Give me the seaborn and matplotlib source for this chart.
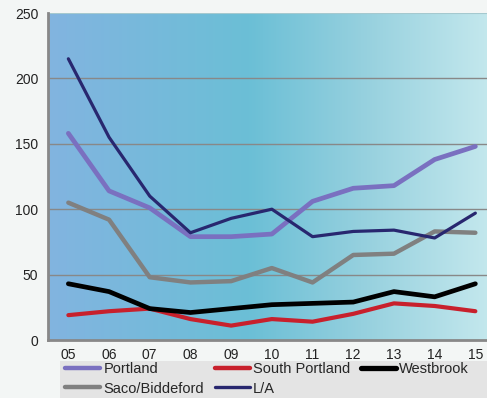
import numpy as np
import pandas as pd
import matplotlib
matplotlib.use("Agg")
import matplotlib.pyplot as plt
import seaborn as sns
from matplotlib.colors import LinearSegmentedColormap
from matplotlib.lines import Line2D
from matplotlib.patches import Rectangle

years = ["05", "06", "07", "08", "09", "10", "11", "12", "13", "14", "15"]
portland = [158, 114, 101, 79, 79, 81, 106, 116, 118, 138, 148]
south_portland = [19, 22, 24, 16, 11, 16, 14, 20, 28, 26, 22]
westbrook = [43, 37, 24, 21, 24, 27, 28, 29, 37, 33, 43]
saco_biddeford = [105, 92, 48, 44, 45, 55, 44, 65, 66, 83, 82]
la = [215, 155, 110, 82, 93, 100, 79, 83, 84, 78, 97]

series_names = ["Portland", "South Portland", "Westbrook", "Saco/Biddeford", "L/A"]
series_values = [portland, south_portland, westbrook, saco_biddeford, la]
colors = {"Portland": "#7a70c0", "South Portland": "#c8202c", "Westbrook": "#000000",
          "Saco/Biddeford": "#808080", "L/A": "#28276f"}
widths = {"Portland": 3.4, "South Portland": 3.0, "Westbrook": 3.4,
          "Saco/Biddeford": 3.2, "L/A": 2.3}

rows = []
for name, vals in zip(series_names, series_values):
    for i, (yr, v) in enumerate(zip(years, vals)):
        rows.append({"x": i, "year": yr, "value": v, "series": name})
df = pd.DataFrame(rows)

sns.set_style("white")
plt.rcParams["font.family"] = ["Liberation Sans", "DejaVu Sans"]

W, H = 487, 398
fig = plt.figure(figsize=(W / 100, H / 100), dpi=100, facecolor="#f3f6f5")
left, right, top, bottom = 48, 495.7, 13, 340
ax = fig.add_axes([left / W, 1 - bottom / H, (right - left) / W, (bottom - top) / H])

# gradient background
cmap = LinearSegmentedColormap.from_list(
    "bg", [(0.0, "#82b4e0"), (0.45, "#6bbfd6"), (0.7, "#95d0de"), (1.0, "#c6e9ee")])
grad = np.linspace(0, 1, 256).reshape(1, -1)
ax.imshow(grad, cmap=cmap, aspect="auto", extent=[0, 1, 0, 1],
          transform=ax.transAxes, zorder=0)

for name in series_names:
    sub = df[df["series"] == name]
    sns.lineplot(data=sub, x="x", y="value", ax=ax, color=colors[name],
                 linewidth=widths[name], label=name, zorder=3,
                 solid_capstyle="round", solid_joinstyle="round", legend=False)

ax.set_xlim(-0.5, 10.5)
ax.set_ylim(0, 250)
ax.set_yticks([0, 50, 100, 150, 200, 250])
ax.set_xticks(range(len(years)))
ax.set_xticklabels(years)
ax.set_xticks(np.arange(-0.5, 11, 1), minor=True)
ax.tick_params(axis="x", which="major", length=0, labelsize=10, pad=6, colors="#222222")
ax.tick_params(axis="x", which="minor", length=4, width=1, color="#888888", direction="out")
ax.tick_params(axis="y", length=4, width=1, color="#888888", labelsize=10, colors="#222222", pad=3)
ax.set_xlabel("")
ax.set_ylabel("")
for y in [50, 100, 150, 200]:
    ax.axhline(y, color="#888888", linewidth=1.0, zorder=1)
ax.axhline(250, color="#a5c9cf", linewidth=1.5, zorder=1)
for s in ["top", "right"]:
    ax.spines[s].set_visible(False)
ax.spines["left"].set_color("#888888")
ax.spines["left"].set_linewidth(2)
ax.spines["bottom"].set_color("#888888")
ax.spines["bottom"].set_linewidth(2)
ax.set_facecolor("none")

# legend background box spanning to the right edge
fig.patches.append(Rectangle((60 / W, 0), 1 - 60 / W, (H - 361) / H,
                             transform=fig.transFigure, facecolor="#e4e4e4",
                             edgecolor="none", zorder=0))

# legend (row-major order via column-major fill)
order = ["Portland", "Saco/Biddeford", "South Portland", "L/A", "Westbrook"]
lw_leg = {"Portland": 3.2, "South Portland": 3.2, "Westbrook": 3.8,
          "Saco/Biddeford": 3.2, "L/A": 2.4}
handles = [Line2D([0], [0], color=colors[n], linewidth=lw_leg[n], solid_capstyle="round")
           for n in order]
leg = fig.legend(handles, order, ncol=3, loc="upper left",
                 bbox_to_anchor=(64 / W, 1 - 361 / H), bbox_transform=fig.transFigure,
                 frameon=False, fontsize=10.5, handlelength=2.4,
                 handletextpad=0.2, columnspacing=0.75, borderpad=0.1,
                 labelspacing=0.35, borderaxespad=0)

fig.savefig("out.png", dpi=100, facecolor=fig.get_facecolor())
